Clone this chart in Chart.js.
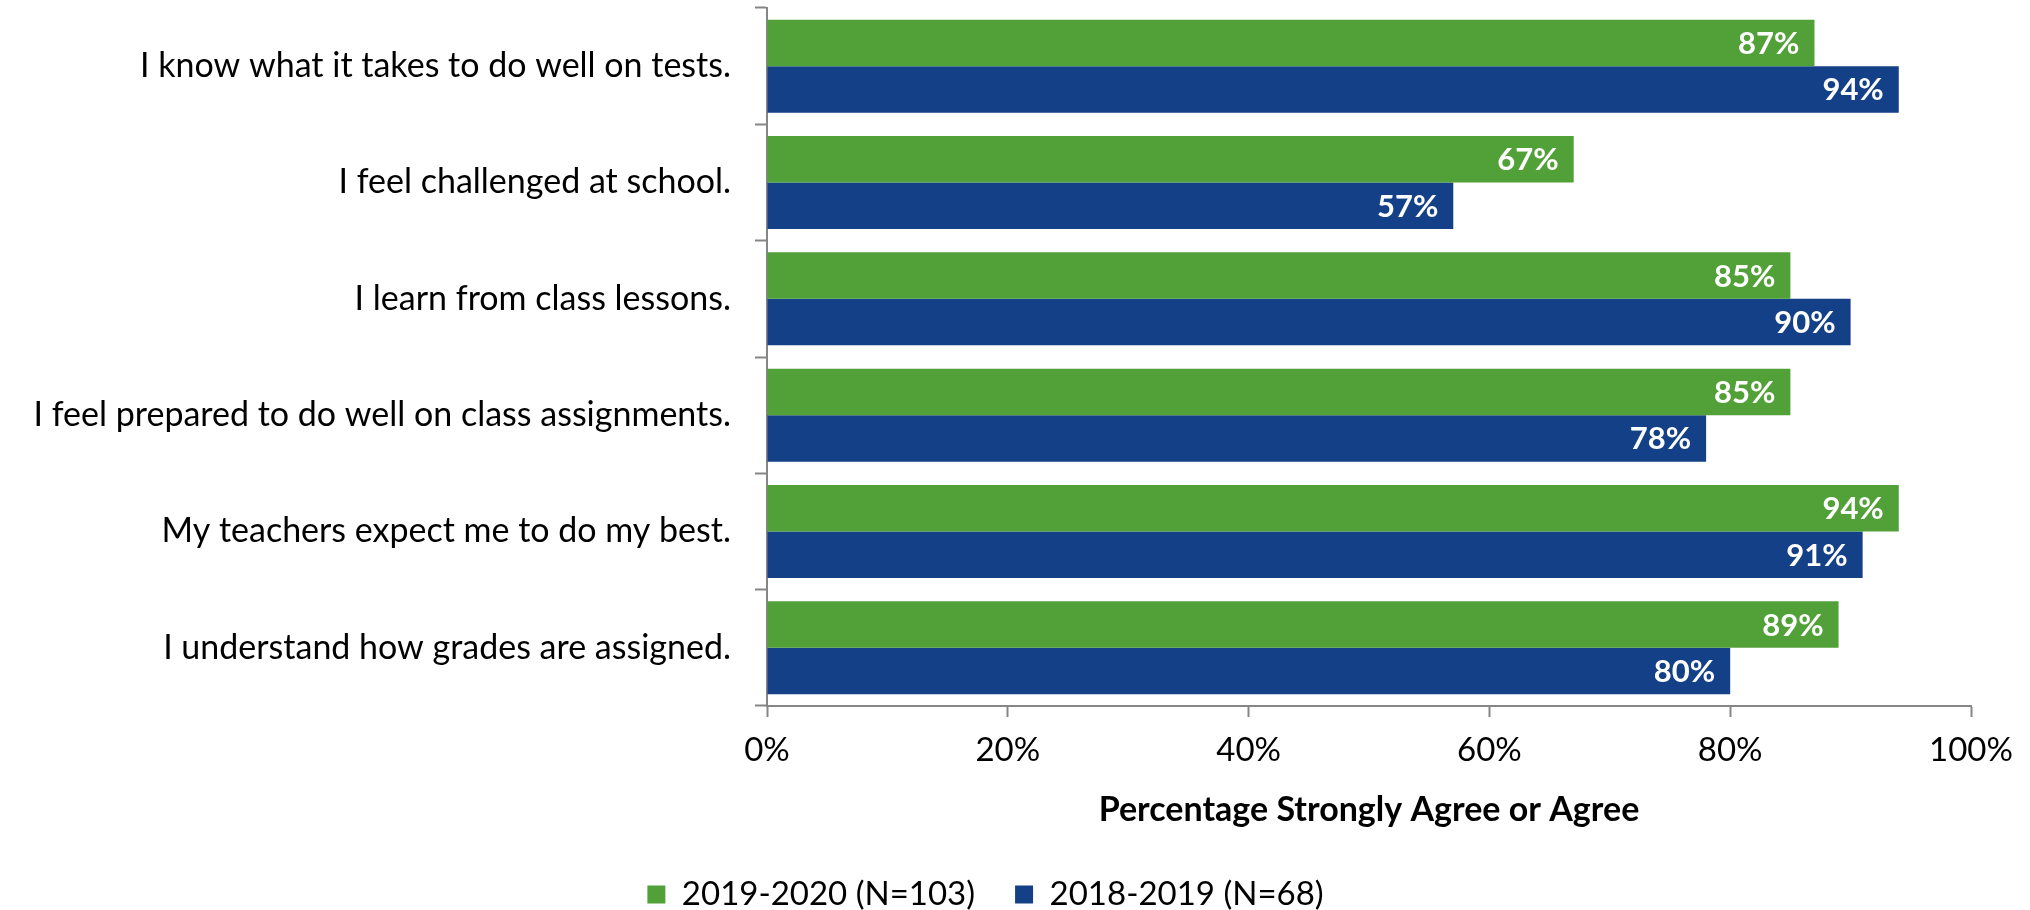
<!DOCTYPE html>
<html>
<head>
<meta charset="utf-8">
<script src="https://cdn.jsdelivr.net/npm/chart.js@4"></script>
<style>
  html, body { margin: 0; padding: 0; background: #ffffff; }
  #wrap { width: 2030px; height: 910px; }
</style>
</head>
<body>
<div id="wrap"><canvas id="chart"></canvas></div>
<script>
/* data */
const statements = [
  "I know what it takes to do well on tests.",
  "I feel challenged at school.",
  "I learn from class lessons.",
  "I feel prepared to do well on class assignments.",
  "My teachers expect me to do my best.",
  "I understand how grades are assigned."
];
const year2020Label = "2019-2020 (N=103)";
const year2020Values = [87, 67, 85, 85, 94, 89];
const year2019Label = "2018-2019 (N=68)";
const year2019Values = [94, 57, 90, 78, 91, 80];
const xTicks = [0, 20, 40, 60, 80, 100];

const GREEN = "#52a038";
const BLUE = "#134087";
const AXIS = "#868686";
const FONT = "Lato, 'Open Sans', sans-serif";

/* white percentage labels inside the bar ends */
const barLabels = {
  id: "barLabels",
  afterDatasetsDraw(chart) {
    const ctx = chart.ctx;
    ctx.save();
    ctx.font = "bold 31px " + FONT;
    ctx.fillStyle = "#ffffff";
    ctx.textAlign = "right";
    ctx.textBaseline = "middle";
    chart.data.datasets.forEach((ds, i) => {
      chart.getDatasetMeta(i).data.forEach((bar, j) => {
        ctx.fillText(ds.data[j] + "%", bar.x - 15, bar.y + 1);
      });
    });
    ctx.restore();
  }
};

/* keep the legend a single short row */
const legendHeight = {
  id: "legendHeight",
  beforeLayout(chart) {
    const lg = chart.legend;
    if (lg && !lg._fixed) {
      const fit = lg.fit;
      lg.fit = function () {
        fit.call(this);
        this.height = 72;
      };
      lg._fixed = true;
    }
  }
};

new Chart(document.getElementById("chart"), {
  type: "bar",
  data: {
    labels: statements,
    datasets: [
      { label: year2020Label, data: year2020Values, backgroundColor: GREEN },
      { label: year2019Label, data: year2019Values, backgroundColor: BLUE }
    ]
  },
  options: {
    indexAxis: "y",
    responsive: true,
    maintainAspectRatio: false,
    animation: false,
    devicePixelRatio: 1,
    categoryPercentage: 0.8,
    barPercentage: 1.0,
    layout: { padding: { top: 8, right: 59, bottom: 0, left: 0 } },
    scales: {
      x: {
        min: 0,
        max: 100,
        afterBuildTicks(scale) {
          scale.ticks = xTicks.map(v => ({ value: v }));
        },
        afterFit(scale) {
          scale.height = 132;
          scale.paddingLeft = 0;
          scale.paddingRight = 0;
        },
        ticks: {
          callback: v => v + "%",
          font: { family: FONT, size: 33 },
          color: "#000000",
          padding: 14,
          maxRotation: 0
        },
        grid: {
          drawOnChartArea: false,
          tickLength: 11,
          tickWidth: 2,
          color: AXIS
        },
        border: { color: AXIS, width: 2 },
        title: {
          display: true,
          text: "Percentage Strongly Agree or Agree",
          font: { family: FONT, size: 34, weight: "bold" },
          color: "#000000",
          padding: { top: 0, bottom: 8 }
        }
      },
      y: {
        afterFit(scale) {
          scale.width = 767;
          scale.paddingTop = 0;
          scale.paddingBottom = 0;
        },
        ticks: {
          font: { family: FONT, size: 34 },
          color: "#000000",
          padding: 24
        },
        grid: {
          drawOnChartArea: false,
          tickLength: 12,
          tickWidth: 2,
          color: AXIS
        },
        border: { color: AXIS, width: 2 }
      }
    },
    plugins: {
      legend: {
        position: "bottom",
        labels: {
          font: { family: FONT, size: 33 },
          color: "#000000",
          boxWidth: 18,
          boxHeight: 18,
          padding: 40
        }
      },
      tooltip: { enabled: false }
    }
  },
  plugins: [barLabels, legendHeight]
});
</script>
</body>
</html>
